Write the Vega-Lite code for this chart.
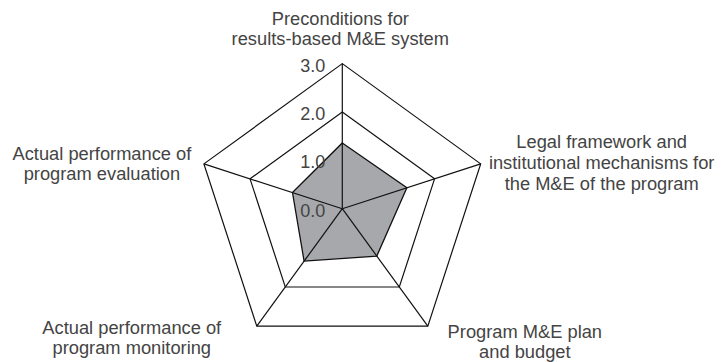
{
  "$schema": "https://vega.github.io/schema/vega-lite/v6.json",
  "width": 722,
  "height": 362,
  "autosize": {"type": "fit", "contains": "padding"},
  "padding": 0,
  "background": "white",
  "config": {"view": {"stroke": null}, "text": {"font": "Liberation Sans", "lineBreak": "\n"}},
  "data": {"values": [
    {"dimension": "Preconditions for\nresults-based M&E system", "score": 1.36},
    {"dimension": "Legal framework and\ninstitutional mechanisms for\nthe M&E of the program", "score": 1.4},
    {"dimension": "Program M&E plan\nand budget", "score": 1.21},
    {"dimension": "Actual performance of\nprogram monitoring", "score": 1.34},
    {"dimension": "Actual performance of\nprogram evaluation", "score": 1.08}
  ]},
  "layer": [
    {
      "transform": [
        {"window": [{"op": "row_number", "as": "idx"}]},
        {"calculate": "(datum.idx-1)*2*PI/5", "as": "a"},
        {"calculate": "sin(datum.a)", "as": "gx"},
        {"calculate": "cos(datum.a)", "as": "gy"}
      ],
      "mark": {"type": "line", "interpolate": "linear-closed", "stroke": "#111", "strokeWidth": 1.2},
      "encoding": {
        "x": {"field": "gx", "type": "quantitative", "scale": {"domain": [-7.0577, 7.8289], "nice": false, "zero": false}, "axis": null},
        "y": {"field": "gy", "type": "quantitative", "scale": {"domain": [-3.1485, 4.3155], "nice": false, "zero": false}, "axis": null},
        "order": {"field": "idx", "type": "quantitative"}
      }
    },
    {
      "transform": [
        {"window": [{"op": "row_number", "as": "idx"}]},
        {"calculate": "(datum.idx-1)*2*PI/5", "as": "a"},
        {"calculate": "datum.score*sin(datum.a)", "as": "px"},
        {"calculate": "datum.score*cos(datum.a)", "as": "py"}
      ],
      "mark": {"type": "line", "interpolate": "linear-closed", "fill": "#a7a8ab", "stroke": "#111", "strokeWidth": 1.3},
      "encoding": {
        "x": {"field": "px", "type": "quantitative", "scale": {"domain": [-7.0577, 7.8289], "nice": false, "zero": false}, "axis": null},
        "y": {"field": "py", "type": "quantitative", "scale": {"domain": [-3.1485, 4.3155], "nice": false, "zero": false}, "axis": null},
        "order": {"field": "idx", "type": "quantitative"}
      }
    },
    {
      "transform": [
        {"window": [{"op": "row_number", "as": "idx"}]},
        {"calculate": "(datum.idx-1)*2*PI/5", "as": "a"},
        {"calculate": "3*sin(datum.a)", "as": "ox"},
        {"calculate": "3*cos(datum.a)", "as": "oy"}
      ],
      "mark": {"type": "rule", "stroke": "#111", "strokeWidth": 1.2},
      "encoding": {
        "x": {"field": "ox", "type": "quantitative", "scale": {"domain": [-7.0577, 7.8289], "nice": false, "zero": false}, "axis": null},
        "y": {"field": "oy", "type": "quantitative", "scale": {"domain": [-3.1485, 4.3155], "nice": false, "zero": false}, "axis": null},
        "x2": {"datum": 0},
        "y2": {"datum": 0}
      }
    },
    {
      "transform": [
        {"window": [{"op": "row_number", "as": "idx"}]},
        {"calculate": "(datum.idx-1)*2*PI/5", "as": "a"},
        {"calculate": "2*sin(datum.a)", "as": "gx"},
        {"calculate": "2*cos(datum.a)", "as": "gy"}
      ],
      "mark": {"type": "line", "interpolate": "linear-closed", "stroke": "#111", "strokeWidth": 1.2},
      "encoding": {
        "x": {"field": "gx", "type": "quantitative", "scale": {"domain": [-7.0577, 7.8289], "nice": false, "zero": false}, "axis": null},
        "y": {"field": "gy", "type": "quantitative", "scale": {"domain": [-3.1485, 4.3155], "nice": false, "zero": false}, "axis": null},
        "order": {"field": "idx", "type": "quantitative"}
      }
    },
    {
      "transform": [
        {"window": [{"op": "row_number", "as": "idx"}]},
        {"calculate": "(datum.idx-1)*2*PI/5", "as": "a"},
        {"calculate": "3*sin(datum.a)", "as": "gx"},
        {"calculate": "3*cos(datum.a)", "as": "gy"}
      ],
      "mark": {"type": "line", "interpolate": "linear-closed", "stroke": "#111", "strokeWidth": 1.2},
      "encoding": {
        "x": {"field": "gx", "type": "quantitative", "scale": {"domain": [-7.0577, 7.8289], "nice": false, "zero": false}, "axis": null},
        "y": {"field": "gy", "type": "quantitative", "scale": {"domain": [-3.1485, 4.3155], "nice": false, "zero": false}, "axis": null},
        "order": {"field": "idx", "type": "quantitative"}
      }
    },
    {
      "data": {"values": [{"tick": 0}, {"tick": 1}, {"tick": 2}, {"tick": 3}]},
      "mark": {"type": "text", "align": "right", "baseline": "middle", "dx": -17, "dy": 3, "fontSize": 18, "fill": "#444"},
      "encoding": {
        "x": {"datum": 0, "type": "quantitative", "scale": {"domain": [-7.0577, 7.8289], "nice": false, "zero": false}, "axis": null},
        "y": {"field": "tick", "type": "quantitative", "scale": {"domain": [-3.1485, 4.3155], "nice": false, "zero": false}, "axis": null},
        "text": {"field": "tick", "type": "quantitative", "format": ".1f"}
      }
    },
    {
      "transform": [
        {"window": [{"op": "row_number", "as": "idx"}]},
        {"filter": "datum.idx == 1"},
        {"calculate": "(datum.idx-1)*2*PI/5", "as": "a"},
        {"calculate": "3*sin(datum.a)", "as": "lx"},
        {"calculate": "3*cos(datum.a)", "as": "ly"}
      ],
      "mark": {"type": "text", "align": "center", "baseline": "middle", "dx": -2, "dy": -44, "fontSize": 18.3, "lineHeight": 20, "fill": "#444"},
      "encoding": {
        "x": {"field": "lx", "type": "quantitative", "scale": {"domain": [-7.0577, 7.8289], "nice": false, "zero": false}, "axis": null},
        "y": {"field": "ly", "type": "quantitative", "scale": {"domain": [-3.1485, 4.3155], "nice": false, "zero": false}, "axis": null},
        "text": {"field": "dimension", "type": "nominal"}
      }
    },
    {
      "transform": [
        {"window": [{"op": "row_number", "as": "idx"}]},
        {"filter": "datum.idx == 2"},
        {"calculate": "(datum.idx-1)*2*PI/5", "as": "a"},
        {"calculate": "3*sin(datum.a)", "as": "lx"},
        {"calculate": "3*cos(datum.a)", "as": "ly"}
      ],
      "mark": {"type": "text", "align": "center", "baseline": "middle", "dx": 121, "dy": -21, "fontSize": 18.3, "lineHeight": 21, "fill": "#444"},
      "encoding": {
        "x": {"field": "lx", "type": "quantitative", "scale": {"domain": [-7.0577, 7.8289], "nice": false, "zero": false}, "axis": null},
        "y": {"field": "ly", "type": "quantitative", "scale": {"domain": [-3.1485, 4.3155], "nice": false, "zero": false}, "axis": null},
        "text": {"field": "dimension", "type": "nominal"}
      }
    },
    {
      "transform": [
        {"window": [{"op": "row_number", "as": "idx"}]},
        {"filter": "datum.idx == 3"},
        {"calculate": "(datum.idx-1)*2*PI/5", "as": "a"},
        {"calculate": "3*sin(datum.a)", "as": "lx"},
        {"calculate": "3*cos(datum.a)", "as": "ly"}
      ],
      "mark": {"type": "text", "align": "center", "baseline": "middle", "dx": 97, "dy": 7, "fontSize": 18.3, "lineHeight": 20, "fill": "#444"},
      "encoding": {
        "x": {"field": "lx", "type": "quantitative", "scale": {"domain": [-7.0577, 7.8289], "nice": false, "zero": false}, "axis": null},
        "y": {"field": "ly", "type": "quantitative", "scale": {"domain": [-3.1485, 4.3155], "nice": false, "zero": false}, "axis": null},
        "text": {"field": "dimension", "type": "nominal"}
      }
    },
    {
      "transform": [
        {"window": [{"op": "row_number", "as": "idx"}]},
        {"filter": "datum.idx == 4"},
        {"calculate": "(datum.idx-1)*2*PI/5", "as": "a"},
        {"calculate": "3*sin(datum.a)", "as": "lx"},
        {"calculate": "3*cos(datum.a)", "as": "ly"}
      ],
      "mark": {"type": "text", "align": "center", "baseline": "middle", "dx": -125, "dy": 3, "fontSize": 18.3, "lineHeight": 20, "fill": "#444"},
      "encoding": {
        "x": {"field": "lx", "type": "quantitative", "scale": {"domain": [-7.0577, 7.8289], "nice": false, "zero": false}, "axis": null},
        "y": {"field": "ly", "type": "quantitative", "scale": {"domain": [-3.1485, 4.3155], "nice": false, "zero": false}, "axis": null},
        "text": {"field": "dimension", "type": "nominal"}
      }
    },
    {
      "transform": [
        {"window": [{"op": "row_number", "as": "idx"}]},
        {"filter": "datum.idx == 5"},
        {"calculate": "(datum.idx-1)*2*PI/5", "as": "a"},
        {"calculate": "3*sin(datum.a)", "as": "lx"},
        {"calculate": "3*cos(datum.a)", "as": "ly"}
      ],
      "mark": {"type": "text", "align": "center", "baseline": "middle", "dx": -102, "dy": -9, "fontSize": 18.3, "lineHeight": 20, "fill": "#444"},
      "encoding": {
        "x": {"field": "lx", "type": "quantitative", "scale": {"domain": [-7.0577, 7.8289], "nice": false, "zero": false}, "axis": null},
        "y": {"field": "ly", "type": "quantitative", "scale": {"domain": [-3.1485, 4.3155], "nice": false, "zero": false}, "axis": null},
        "text": {"field": "dimension", "type": "nominal"}
      }
    }
  ]
}
